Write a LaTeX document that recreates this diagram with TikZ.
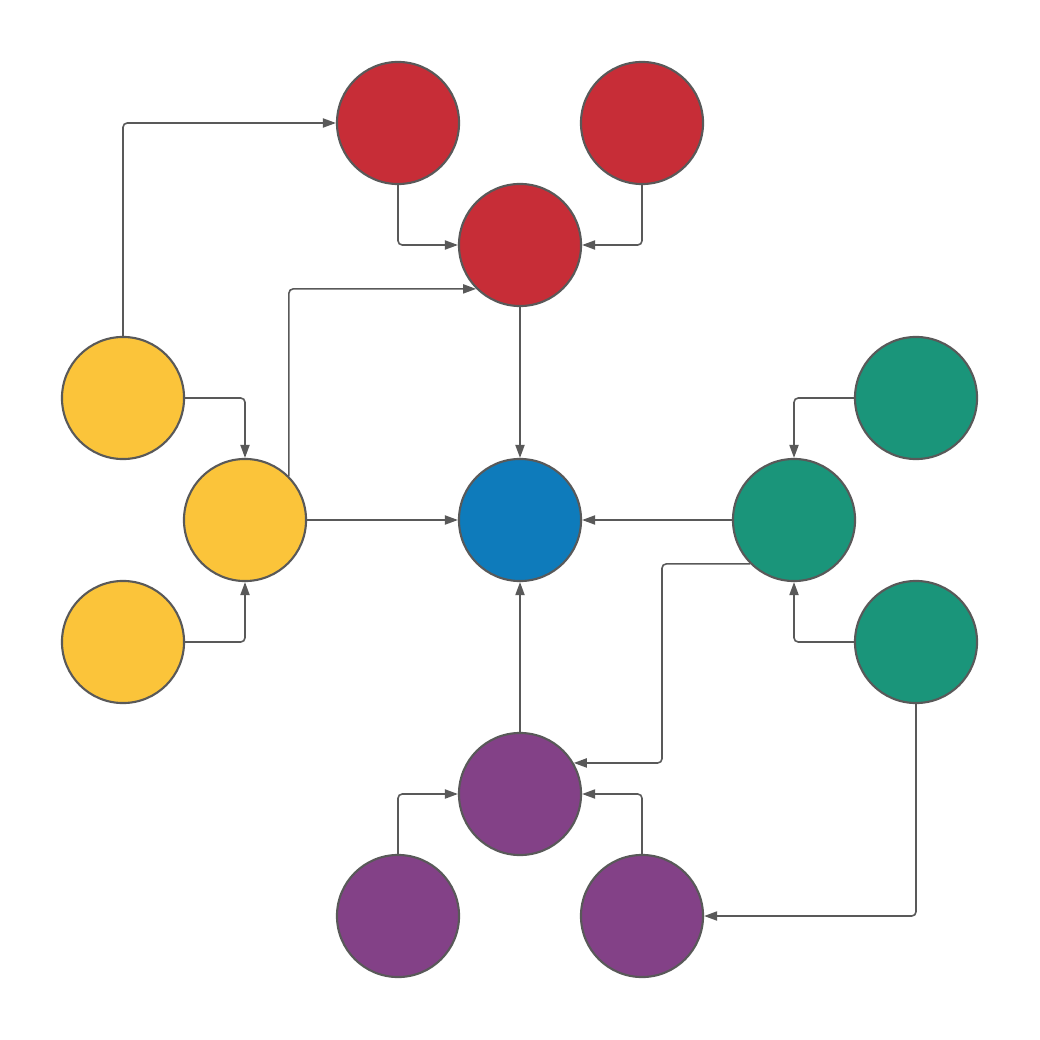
\documentclass[tikz,border=0pt]{standalone}
\usepackage{tikz}
\usetikzlibrary{arrows.meta}

\definecolor{redc}{HTML}{C72D37}
\definecolor{yellowc}{HTML}{FBC43A}
\definecolor{bluec}{HTML}{0E7BBB}
\definecolor{greenc}{HTML}{1A957A}
\definecolor{purplec}{HTML}{834187}
\definecolor{linec}{HTML}{595959}

\begin{document}
\begin{tikzpicture}[
  x=0.01cm, y=-0.01cm,
  dot/.style={circle, draw=linec, line width=0.6pt,
              minimum size=1.22cm, inner sep=0pt},
  arr/.style={-{Triangle[length=3.7pt, width=2.6pt]}, draw=linec,
              line width=0.45pt, rounded corners=1.2pt},
]
\useasboundingbox (0,0) rectangle (1040,1040);

% red group
\node[dot, fill=redc] (rtl) at (398,123) {};
\node[dot, fill=redc] (rtr) at (642,123) {};
\node[dot, fill=redc] (rm)  at (520,245) {};

% yellow group
\node[dot, fill=yellowc] (yt) at (123,398) {};
\node[dot, fill=yellowc] (ym) at (245,520) {};
\node[dot, fill=yellowc] (yb) at (123,642) {};

% centre
\node[dot, fill=bluec] (hub) at (520,520) {};

% green group
\node[dot, fill=greenc] (gt) at (916,398) {};
\node[dot, fill=greenc] (gm) at (794,520) {};
\node[dot, fill=greenc] (gb) at (916,642) {};

% purple group
\node[dot, fill=purplec] (pm)  at (520,794) {};
\node[dot, fill=purplec] (pbl) at (398,916) {};
\node[dot, fill=purplec] (pbr) at (642,916) {};

\coordinate (gx) at (662,0);

\draw[arr] (yt.north) |- (rtl.west);
\draw[arr] (rtl.south) |- (rm.west);
\draw[arr] (rtr.south) |- (rm.east);
\draw[arr] (ym.45) |- (rm.225);
\draw[arr] (yt.east) -| (ym.north);
\draw[arr] (yb.east) -| (ym.south);
\draw[arr] (ym.east) -- (hub.west);
\draw[arr] (rm.south) -- (hub.north);
\draw[arr] (gm.west) -- (hub.east);
\draw[arr] (gt.west) -| (gm.north);
\draw[arr] (gb.west) -| (gm.south);
\draw[arr] (gm.225) -- (gm.225 -| gx) -- (gx |- pm.30) -- (pm.30);
\draw[arr] (pm.north) -- (hub.south);
\draw[arr] (pbl.north) |- (pm.west);
\draw[arr] (pbr.north) |- (pm.east);
\draw[arr] (gb.south) |- (pbr.east);
\end{tikzpicture}
\end{document}
